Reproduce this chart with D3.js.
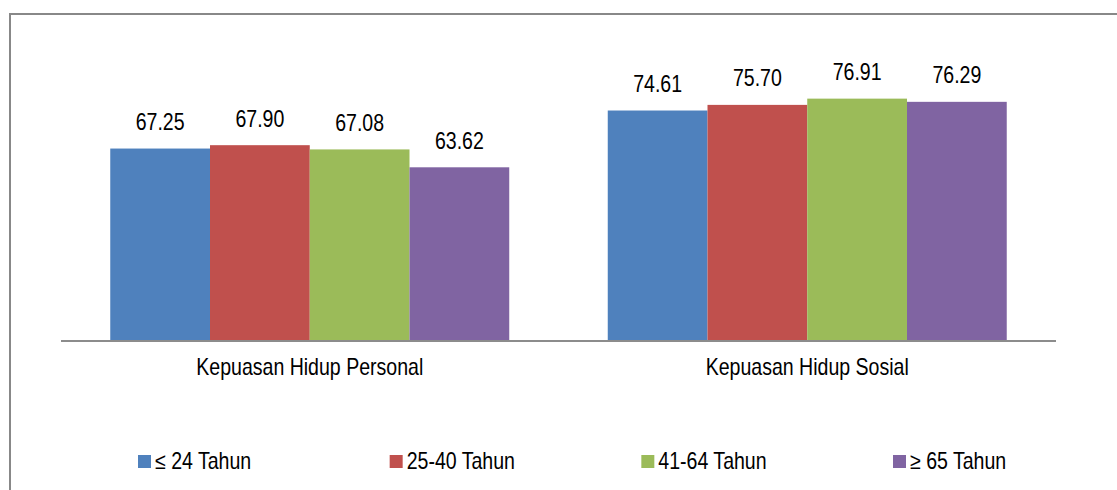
<!DOCTYPE html>
<html>
<head>
<meta charset="utf-8">
<script src="https://cdn.jsdelivr.net/npm/d3@7"></script>
<style>
  html, body { margin: 0; padding: 0; background: #fff; }
  svg text { font-family: "Liberation Sans", Arial, sans-serif; fill: #000; }
</style>
</head>
<body>
<svg id="chart" width="1117" height="490"></svg>
<script>
// --- data ---
const categories = ["Kepuasan Hidup Personal", "Kepuasan Hidup Sosial"];
const seriesNames = ["\u2264 24 Tahun", "25-40 Tahun", "41-64 Tahun", "\u2265 65 Tahun"];
const seriesColors = ["#4f81bd", "#c0504d", "#9bbb59", "#8064a2"];
const age24 = [67.25, 74.61];
const age25to40 = [67.90, 75.70];
const age41to64 = [67.08, 76.91];
const age65 = [63.62, 76.29];
const yDomain = [30, 90];

const seriesValues = [age24, age25to40, age41to64, age65];

const svg = d3.select("#chart");
const W = 1117, H = 490;
const FS = 23, SQUEEZE = 0.85; // the original font is a narrow Arial

// places a horizontally squeezed text at (x, y)
function narrowText(sel, x, y) {
    return sel.attr("transform", `translate(${x},${y}) scale(${SQUEEZE},1)`)
        .attr("font-size", FS);
}

// outer frame (only top + left visible in the crop)
svg.append("path")
    .attr("d", `M10,${H} L10,14 L${W},14`)
    .attr("fill", "none").attr("stroke", "#888").attr("stroke-width", 2);

const plot = { left: 61, right: 1056, top: 31, bottom: 341 };

const x0 = d3.scaleBand().domain(categories).range([plot.left, plot.right]).paddingInner(0.198).paddingOuter(0.099);
const x1 = d3.scaleBand().domain(d3.range(seriesNames.length)).range([0, x0.bandwidth()]);
const y = d3.scaleLinear().domain(yDomain).range([plot.bottom, plot.top]);

const groups = svg.append("g").selectAll("g").data(categories).enter().append("g")
    .attr("transform", d => `translate(${x0(d)},0)`);

groups.each(function(cat, ci) {
    const g = d3.select(this);
    seriesValues.forEach((vals, si) => {
        const v = vals[ci];
        g.append("rect")
            .attr("x", x1(si)).attr("width", x1.bandwidth())
            .attr("y", y(v)).attr("height", y(yDomain[0]) - y(v))
            .attr("fill", seriesColors[si]);
        g.append("text")
            .attr("text-anchor", "middle")
            .call(narrowText, x1(si) + x1.bandwidth() / 2, y(v) - 18.5)
            .text(v.toFixed(2));
    });
});

// x axis: baseline + category labels, no ticks
const xAxis = svg.append("g").attr("transform", `translate(0,${plot.bottom})`)
    .call(d3.axisBottom(x0).tickSize(0).tickPadding(17));
xAxis.select(".domain").attr("stroke", "#8c8c8c").attr("stroke-width", 2)
    .attr("d", `M${plot.left},0H${plot.right}`);
xAxis.selectAll(".tick text")
    .attr("font-family", null)
    .attr("y", null).attr("dy", "0.71em")
    .call(narrowText, 0, 18)
    .style("fill", "#000");

// legend
const legendX = d3.scalePoint().domain(seriesNames).range([138, 893]);
const legend = svg.append("g").selectAll("g").data(seriesNames).enter().append("g")
    .attr("transform", d => `translate(${legendX(d)},455)`);
legend.append("rect").attr("width", 13).attr("height", 13)
    .attr("fill", (d, i) => seriesColors[i]);
legend.append("text")
    .call(narrowText, 17, 14)
    .text(d => d);
</script>
</body>
</html>
